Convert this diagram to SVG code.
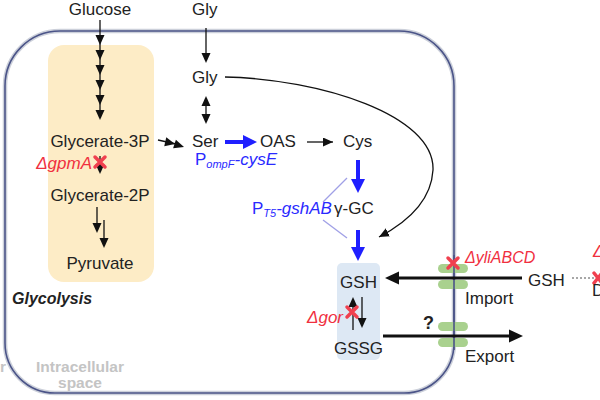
<svg xmlns="http://www.w3.org/2000/svg" xmlns:xlink="http://www.w3.org/1999/xlink" width="600" height="400" viewBox="0 0 600 400">
<style>
text{font-family:"Liberation Sans",Arial,sans-serif;font-size:17px;fill:#222}
.red{fill:#f0303f;font-style:italic}
.blue{fill:#2a2aff}
.ln{stroke:#111;stroke-width:1.3;fill:none}
.bl{stroke:#1f1fff;stroke-width:4;fill:none}
.blh{fill:#1f1fff}
.x{stroke:#f0404f;stroke-width:3.5;stroke-linecap:round}
.tr{fill:#a9d18e}
.gray{fill:#c4c4c4;font-weight:bold;font-size:15.5px}
</style>
<defs>
<path id="ah" d="M-4.5,-10 L4.5,-10 L0,0 Z" fill="#111"/>
<marker id="m" markerWidth="11" markerHeight="10" refX="10" refY="4.5" orient="auto" markerUnits="userSpaceOnUse"><path d="M0,0 L10,4.5 L0,9 Z" fill="#111"/></marker>
</defs>
<g id="cell">
<path d="M60,31 H399 A55,55 0 0 1 454,86 V343 A50,50 0 0 1 404,393 H55 A50,50 0 0 1 5,343 V86 A55,55 0 0 1 60,31 Z" fill="none" stroke="#ccd0da" stroke-width="4.5"/>
<path d="M60,31 H399 A55,55 0 0 1 454,86 V343 A50,50 0 0 1 404,393 H55 A50,50 0 0 1 5,343 V86 A55,55 0 0 1 60,31 Z" fill="none" stroke="#4b5488" stroke-width="1.6"/>
</g>
<g id="glycolysis-box"><rect x="48" y="45" width="106" height="237" rx="16" fill="#fdecc6"/></g>
<g id="gsh-box"><rect x="337" y="263" width="43" height="97" rx="5" fill="#dde8f4"/></g>
<g id="transporters">
<rect class="tr" x="438" y="264" width="30" height="9" rx="4.5"/>
<rect class="tr" x="438" y="280" width="30" height="9" rx="4.5"/>
<rect class="tr" x="438" y="322" width="30" height="9" rx="4.5"/>
<rect class="tr" x="438" y="338" width="30" height="9" rx="4.5"/>
</g>
<g id="connectors">
<line class="ln" x1="100" y1="20" x2="100" y2="115"/>
<use xlink:href="#ah" x="100" y="45"/><use xlink:href="#ah" x="100" y="60"/><use xlink:href="#ah" x="100" y="75"/>
<use xlink:href="#ah" x="100" y="90"/><use xlink:href="#ah" x="100" y="105"/><use xlink:href="#ah" x="100" y="120"/>
<line class="ln" x1="100" y1="156" x2="100" y2="166"/><use xlink:href="#ah" x="100" y="174"/>
<line class="ln" x1="97" y1="207" x2="97" y2="225"/><use xlink:href="#ah" x="97" y="233"/>
<line class="ln" x1="104" y1="220" x2="104" y2="240"/><use xlink:href="#ah" x="104" y="248"/>
<line class="ln" x1="158" y1="140" x2="176" y2="144"/>
<use xlink:href="#ah" transform="translate(175,144) rotate(-77)"/>
<use xlink:href="#ah" transform="translate(184,147) rotate(-72)"/>
<line class="ln" x1="206" y1="28" x2="206" y2="55"/><use xlink:href="#ah" x="206" y="63"/>
<line class="ln" x1="206" y1="104" x2="206" y2="116"/><use xlink:href="#ah" x="206" y="124"/>
<use xlink:href="#ah" transform="translate(206,96) rotate(180)"/>
<path class="ln" d="M225,77 C320,79 435,115 433,170 C431,205 400,226 379,237" marker-end="url(#m)"/>
<line class="bl" x1="225" y1="142" x2="244" y2="142"/><path class="blh" d="M243,135 L257,142 L243,149 Z"/>
<line class="ln" x1="307" y1="142" x2="333" y2="142" marker-end="url(#m)"/>
<line class="bl" x1="358" y1="160" x2="358" y2="180"/><path class="blh" d="M351,179 L358,193 L365,179 Z"/>
<line class="bl" x1="358" y1="230" x2="358" y2="248"/><path class="blh" d="M351,247 L358,261 L365,247 Z"/>
<line x1="347" y1="178" x2="323" y2="202" stroke="#a0a0e6" stroke-width="1.3"/>
<line x1="323" y1="220" x2="347" y2="238" stroke="#a0a0e6" stroke-width="1.3"/>
<line class="ln" x1="353" y1="330" x2="353" y2="305"/><use xlink:href="#ah" transform="translate(353,297) rotate(180)"/>
<line class="ln" x1="362" y1="297" x2="362" y2="320"/><use xlink:href="#ah" x="362" y="328"/>
<line x1="454" y1="255" x2="454" y2="350" stroke="#4b5488" stroke-width="1.6"/>
<line x1="522" y1="278" x2="396" y2="278" stroke="#111" stroke-width="3"/><path d="M385,278 L399,271.5 L399,284.5 Z" fill="#111"/>
<line x1="383" y1="336" x2="510" y2="336" stroke="#111" stroke-width="3"/><path d="M523,336 L509,329.5 L509,342.5 Z" fill="#111"/>
<line x1="572" y1="278" x2="596" y2="278" stroke="#8a8a8a" stroke-width="1.3" stroke-dasharray="2,2"/>
</g>
<g id="knockouts">
<path class="x" d="M95,157 L105,167 M105,157 L95,167"/>
<path class="x" d="M347,307 L357,317 M357,307 L347,317"/>
<path class="x" d="M448,258 L458,268 M458,258 L448,268"/>
<path class="x" d="M594,273 L602,283 M602,273 L594,283"/>
</g>
<g id="labels">
<text x="100" y="15" text-anchor="middle">Glucose</text>
<text x="100" y="147" text-anchor="middle">Glycerate-3P</text>
<text x="92" y="169" text-anchor="end" class="red">ΔgpmA</text>
<text x="100" y="201" text-anchor="middle">Glycerate-2P</text>
<text x="100" y="269" text-anchor="middle">Pyruvate</text>
<text x="12" y="304" style="font-weight:bold;font-style:italic;font-size:16px">Glycolysis</text>
<text x="80" y="372" text-anchor="middle" class="gray">Intracellular</text>
<text x="80" y="388" text-anchor="middle" class="gray">space</text>
<text x="6" y="372" text-anchor="end" class="gray">r</text>
<text x="192" y="15">Gly</text>
<text x="192" y="83">Gly</text>
<text x="192" y="147">Ser</text>
<text x="260" y="147">OAS</text>
<text x="343" y="147">Cys</text>
<text x="195" y="165" class="blue">P<tspan font-size="11" dy="3" font-style="italic">ompF</tspan><tspan dy="-3" font-style="italic">-cysE</tspan></text>
<text x="252" y="214" class="blue">P<tspan font-size="11" dy="3" font-style="italic">T5</tspan><tspan dy="-3" font-style="italic">-gshAB</tspan></text>
<text x="334" y="214">γ-GC</text>
<text x="358.5" y="288" text-anchor="middle">GSH</text>
<text x="358.5" y="354" text-anchor="middle">GSSG</text>
<text x="343" y="323" text-anchor="end" class="red">Δgor</text>
<text x="465" y="263" class="red" style="font-size:16px">ΔyliABCD</text>
<text x="528" y="286">GSH</text>
<text x="465" y="304">Import</text>
<text x="465" y="362">Export</text>
<text x="423" y="329" style="font-weight:bold;font-size:18px">?</text>
<text x="593" y="257" class="red">Δg</text>
<text x="592" y="296">D</text>
</g>
</svg>
